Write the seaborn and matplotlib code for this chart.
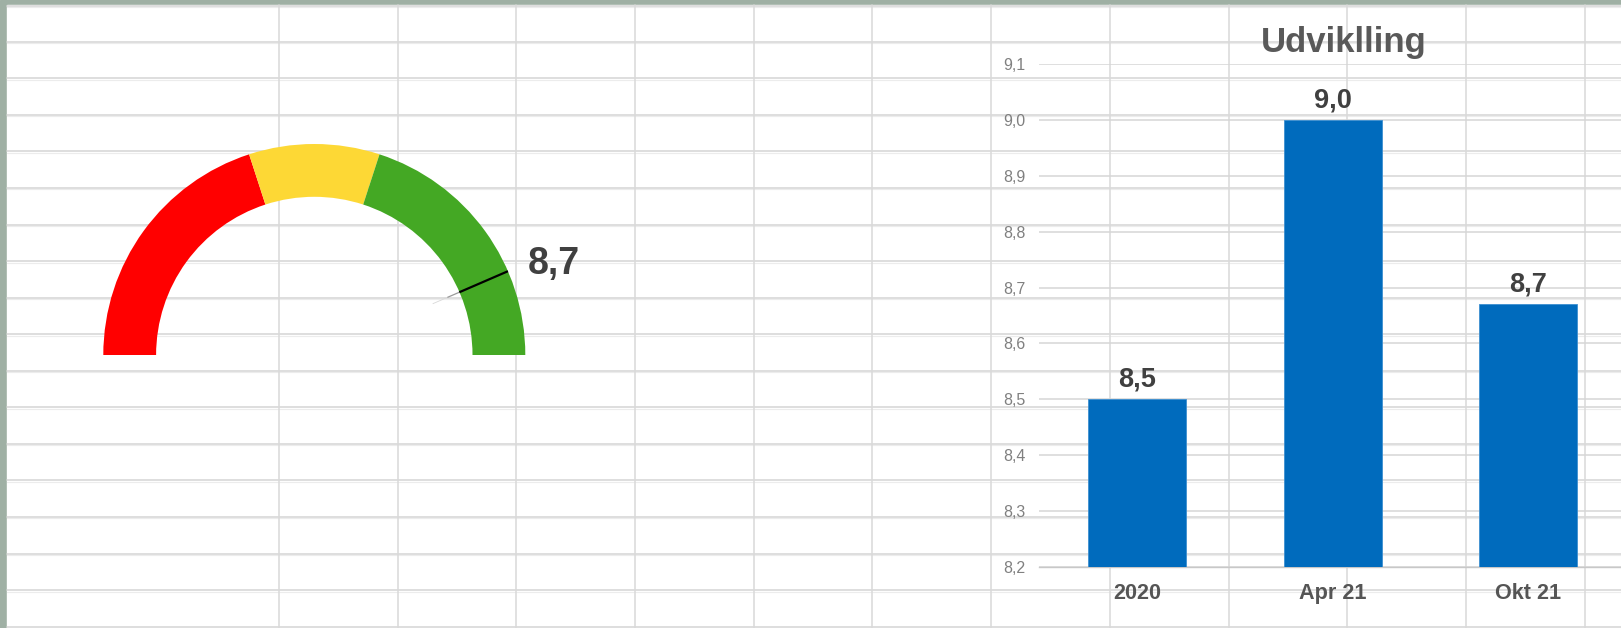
import numpy as np
import matplotlib
matplotlib.use("Agg")
import matplotlib.pyplot as plt
from matplotlib.patches import Wedge, Rectangle
from matplotlib.ticker import FixedLocator, FuncFormatter
import seaborn as sns

# --- data ---
kategorier = ["2020", "Apr 21", "Okt 21"]
scores = [8.5, 9.0, 8.67]
y_ticks = [8.2, 8.3, 8.4, 8.5, 8.6, 8.7, 8.8, 8.9, 9.0, 9.1]
gauge_vaerdi = 8.7
gauge_graenser = [0, 4, 6, 10]
gauge_farver = ["#ff0000", "#fdd835", "#44a824"]

W, H = 1621, 628
BLAA = "#006bbd"
TEKST = "#404040"

sns.set_style("white")
plt.rcParams["font.family"] = ["Liberation Sans", "DejaVu Sans"]

fig = plt.figure(figsize=(W / 100, H / 100), dpi=100)

# regneark-baggrund (pixelkoordinater, y fra toppen)
bg = fig.add_axes([0, 0, 1, 1])
bg.set_xlim(0, W)
bg.set_ylim(0, H)
bg.axis("off")
bg.add_patch(Rectangle((0, 0), W, H, color="#9fb0a4", zorder=0))
bg.add_patch(Rectangle((7.3, 0), W, H - 4.5, color="white", zorder=0.5))

rows = [5.5] + [41.7 + 36.56 * k for k in range(17)]
cols = [279 + 118.69 * k for k in range(12)]
for y in rows:
    bg.plot([7.3, W], [H - y, H - y], color="#d4d4d4", lw=1.1, zorder=1)
    bg.plot([7.3, W], [H - y - 1.5, H - y - 1.5], color="#ececec", lw=0.8, zorder=1)
for x in cols:
    bg.plot([x, x], [0, H - 4.5], color="#d9d9d9", lw=1.1, zorder=1)

# gauge
cx, cy = 314.3, H - 355
R, bredde = 211, 52.8


def vinkel(v):
    return 180 * (1 - v / gauge_graenser[-1])


for lo, hi, farve in zip(gauge_graenser[:-1], gauge_graenser[1:], gauge_farver):
    bg.add_patch(Wedge((cx, cy), R, vinkel(hi), vinkel(lo), width=bredde,
                       color=farve, lw=0, zorder=2))

a = np.deg2rad(vinkel(gauge_vaerdi))
for r0, r1, c, lw in [(129, 145, "#d8d8d8", 0.6), (145, 158, "#9a9a9a", 0.9),
                      (158, R, "black", 1.6)]:
    bg.plot([cx + r0 * np.cos(a), cx + r1 * np.cos(a)],
            [cy + r0 * np.sin(a), cy + r1 * np.sin(a)],
            color=c, lw=lw, solid_capstyle="butt", zorder=3)
bg.text(528, H - 273.5, f"{gauge_vaerdi:.1f}".replace(".", ","),
        fontsize=27, fontweight="bold", color=TEKST, ha="left", va="baseline")

# søjlediagram
x0, x1, ybund, ytop = 1039, W, 566.7, 64.3
ax = fig.add_axes([x0 / W, (H - ybund) / H, (x1 - x0) / W, (ybund - ytop) / H])
ax.set_facecolor("none")
sns.barplot(x=kategorier, y=scores, color=BLAA, saturation=1, width=0.5,
            edgecolor="#3d8fd0", linewidth=0.6, ax=ax, zorder=3)
ax.set_ylim(y_ticks[0], y_ticks[-1])
ax.set_xlim(-0.5, 2.473)
ax.set_xlabel("")
ax.set_ylabel("")

ax.yaxis.set_major_locator(FixedLocator(y_ticks))
ax.yaxis.set_major_formatter(FuncFormatter(lambda v, p: f"{v:.1f}".replace(".", ",")))
ax.yaxis.grid(True, color="#d6d6d6", lw=1.1)
ax.set_axisbelow(True)
for s in ["top", "right", "left"]:
    ax.spines[s].set_visible(False)
ax.spines["bottom"].set_color("#c8c8c8")
ax.spines["bottom"].set_linewidth(1.0)

ax.tick_params(axis="y", length=0, pad=9.7, labelsize=11.5, labelcolor="#808080")
ax.tick_params(axis="x", which="major", length=0, pad=11.5, labelsize=15.6,
               labelcolor="#555555")
for t in ax.get_xticklabels():
    t.set_fontweight("bold")
ax.xaxis.set_minor_locator(FixedLocator([-0.5, 0.5, 1.5, 2.5]))
ax.tick_params(axis="x", which="minor", length=5, width=1, color="#c8c8c8",
               direction="out")

ax.bar_label(ax.containers[0], fmt=lambda v: f"{v:.1f}".replace(".", ","),
             padding=5, fontsize=19.5, fontweight="bold", color=TEKST)

fig.text(1344 / W, 1 - 52 / H, "Udviklling", ha="center", va="baseline",
         fontsize=25, fontweight="bold", color="#595959")

fig.savefig("out.png", dpi=100)
